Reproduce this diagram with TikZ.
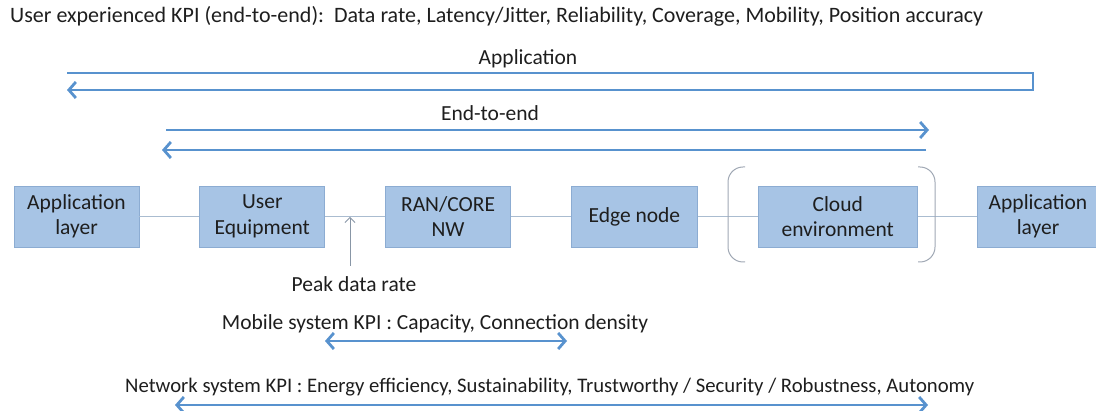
\documentclass[tikz,border=0pt]{standalone}
\usepackage{fontspec}
\setmainfont{Carlito}
\usepackage{xcolor}
\usepackage{tikz}
\usetikzlibrary{arrows.meta,positioning}
\definecolor{boxfill}{RGB}{167,196,229}
\definecolor{boxline}{RGB}{140,172,210}
\definecolor{flowblue}{RGB}{88,146,206}
\definecolor{wiregray}{RGB}{170,188,208}
\definecolor{bracegray}{RGB}{160,168,180}
\definecolor{ink}{RGB}{30,30,30}

\begin{document}
\begin{tikzpicture}[
  x=1pt, y=-1pt,
  font=\fontsize{21.5}{25.5}\selectfont, text=ink,
  node distance=60pt,
  block/.style={draw=boxline, fill=boxfill, line width=0.8pt, align=center,
                minimum width=125pt, minimum height=61pt, inner sep=2pt},
  label/.style={inner sep=0pt},
  wire/.style={draw=wiregray, line width=1pt},
  flow/.style={draw=flowblue, line width=2.8pt},
  tip/.style={-{Straight Barb[length=7pt,width=16pt]}},
  dtip/.style={{Straight Barb[length=7pt,width=16pt]}-{Straight Barb[length=7pt,width=16pt]}},
  pointer/.style={draw=wiregray!80!black, line width=0.8pt, -{Straight Barb[length=5pt,width=10pt]}}
]
  \useasboundingbox (0,0) rectangle (1096,411);

  % chain of blocks
  \node[block] (app1) at (76.5,216.5) {Application\\layer};
  \node[block, right=of app1] (ue) {User\\Equipment};
  \node[block, right=of ue] (ran) {RAN/CORE\\NW};
  \node[block, right=of ran, minimum width=126pt] (edge) {Edge node};
  \node[block, right=of edge, minimum width=159pt] (cloud) {Cloud\\environment};
  \node[block, right=59pt of cloud, minimum width=122pt] (app2) {Application\\layer};

  \draw[wire] (app1) -- (ue);
  \draw[wire] (ue) -- (ran);
  \draw[wire] (ran) -- (edge);
  \draw[wire] (edge) -- (cloud);
  \draw[wire] (cloud) -- (app2);

  % bracket round the cloud
  \draw[bracegray, line width=1pt, rounded corners=15pt]
    (745,167) -- (728,167) -- (728,262) -- (745,262);
  \draw[bracegray, line width=1pt, rounded corners=15pt]
    (918,167) -- (935,167) -- (935,262) -- (918,262);

  % texts
  \node[label, anchor=base west, font=\fontsize{22}{26}\selectfont] (userkpi) at (10,23)
    {User experienced KPI (end-to-end):\ \ Data rate, Latency/Jitter, Reliability, Coverage, Mobility, Position accuracy};
  \node[label, anchor=base] (applbl) at (528,65) {Application};
  \node[label, anchor=base] (e2elbl) at (490,121) {End-to-end};
  \node[label, anchor=base] (peaklbl) at (354,292) {Peak data rate};
  \node[label, anchor=base] (mobilekpi) at (435,330) {Mobile system KPI : Capacity, Connection density};
  \node[label, anchor=base west, font=\fontsize{20.7}{25}\selectfont] (netkpi) at (125,393)
    {Network system KPI : Energy efficiency, Sustainability, Trustworthy / Security / Robustness, Autonomy};

  % application loop
  \coordinate (apptl) at (67,73);
  \coordinate (apptr) at (1033,73);
  \coordinate (appbr) at (1033,90);
  \coordinate (appbl) at (67,90);
  \draw[flow, tip] (apptl) -- (apptr) -- (appbr) -- (appbl);

  % end-to-end
  \coordinate (e2etl) at (166,130);
  \coordinate (e2etr) at (929,130);
  \coordinate (e2ebr) at (926,150);
  \coordinate (e2ebl) at (162,150);
  \draw[flow, tip] (e2etl) -- (e2etr);
  \draw[flow, tip] (e2ebr) -- (e2ebl);

  % peak data rate
  \coordinate (peakfoot) at (350,266);
  \coordinate (peaktip) at (350,217);
  \draw[pointer] (peakfoot) -- (peaktip);

  % system KPI spans
  \coordinate (mobl) at (325,341);
  \coordinate (mobr) at (567,341);
  \draw[flow, dtip] (mobl) -- (mobr);
  \coordinate (netl) at (175,405);
  \coordinate (netr) at (928,405);
  \draw[flow, dtip] (netl) -- (netr);
\end{tikzpicture}
\end{document}
